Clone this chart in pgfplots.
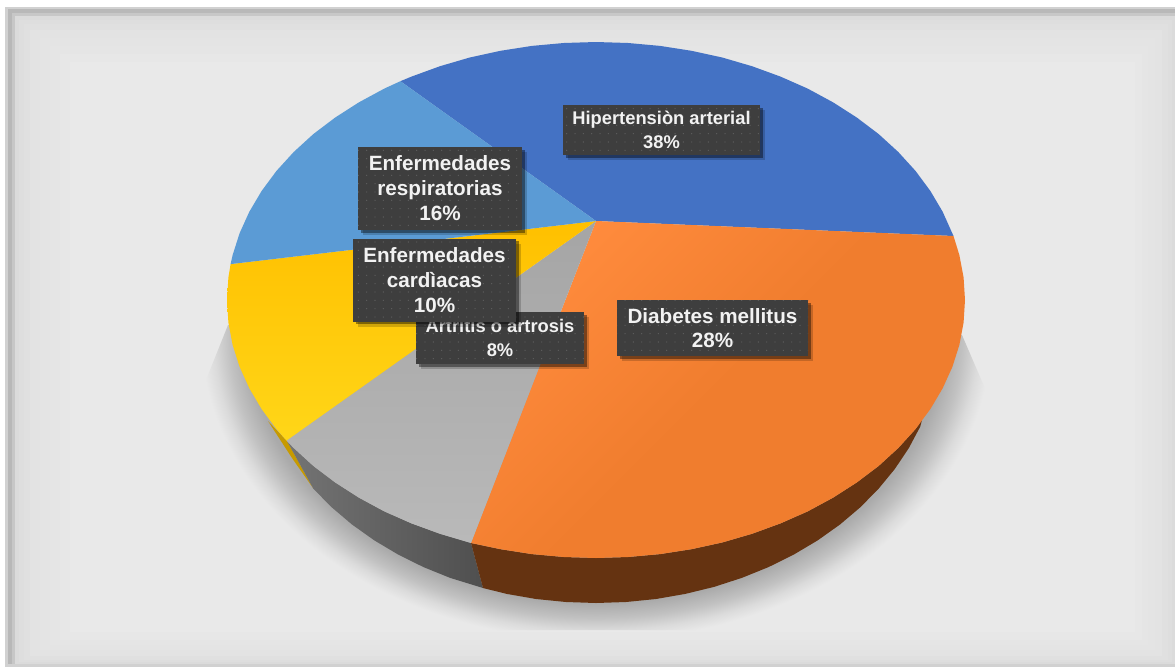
\documentclass[border=0pt]{standalone}
\usepackage{fontspec}
\setmainfont{Liberation Sans}
\usepackage{pgfplots}
\pgfplotsset{compat=1.18}
\usetikzlibrary{shadows,patterns.meta}
\definecolor{cblue}{HTML}{4472C4}
\definecolor{clblue}{HTML}{5B9BD5}
\definecolor{corange}{HTML}{F07D2E}
\definecolor{corangeb}{HTML}{FF8B3D}
\definecolor{cyellow}{HTML}{FFC000}
\definecolor{cyellowb}{HTML}{FFD618}
\definecolor{cgray}{HTML}{A5A5A5}
\definecolor{cgrayb}{HTML}{B9B9B9}
\definecolor{sideorange}{HTML}{653311}
\definecolor{sideyellow}{HTML}{C79A00}
\definecolor{sidegrayl}{HTML}{747474}
\definecolor{sidegrayr}{HTML}{4F4F4F}
\definecolor{boxc}{HTML}{3E3E3E}
\definecolor{bgc}{HTML}{E9E9E9}
\pgfdeclareradialshading{pieshadow}{\pgfpoint{0bp}{0bp}}{color(0bp)=(black!30!bgc); color(22bp)=(black!27!bgc); color(23.2bp)=(black!17!bgc); color(24.2bp)=(black!6!bgc); color(25bp)=(bgc); color(50bp)=(bgc)}
\tikzset{lab/.style={draw=none,fill=boxc,text=white!95!black,font=\bfseries,align=center,inner sep=0pt,anchor=center,
  drop shadow={shadow xshift=3pt,shadow yshift=-3pt,opacity=.18,fill=black},
  drop shadow={shadow xshift=1.5pt,shadow yshift=-1.5pt,opacity=.4,fill=black},
  postaction={pattern={Dots[distance=5pt,radius=.4pt]},pattern color=white!17!boxc}}}
\begin{document}
\begin{tikzpicture}
\begin{axis}[hide axis,scale only axis,x=0.6pt,y=0.6pt,xmin=0,xmax=1175,ymin=0,ymax=667,y dir=reverse,clip=true,no markers]
% background panel
\fill[white] (axis cs:0,0) rectangle (axis cs:1175,667);
\fill[black!18] (axis cs:5,7) rectangle (axis cs:1175,667);
\fill[black!28] (axis cs:8,9) rectangle (axis cs:1175,664);
\fill[black!22] (axis cs:12,13) rectangle (axis cs:1175,664);
\fill[black!14] (axis cs:15,16) rectangle (axis cs:1175,664);
\fill[black!13] (axis cs:19,20) rectangle (axis cs:1172,662);
\fill[black!12] (axis cs:24,24) rectangle (axis cs:1168,660);
\fill[black!11] (axis cs:30,30) rectangle (axis cs:1162,656);
\fill[black!10.5] (axis cs:40,38) rectangle (axis cs:1155,650);
\fill[black!10] (axis cs:50,46) rectangle (axis cs:1148,645);
\fill[black!9.3] (axis cs:60,54) rectangle (axis cs:1142,640);
\fill[bgc] (axis cs:70,62) rectangle (axis cs:1135,632);
% cast shadow
\begin{scope}
\clip (axis cs:228,325) -- (axis cs:200,395) -- (axis cs:200,630) -- (axis cs:992,630) -- (axis cs:990,400) -- (axis cs:962,335) -- cycle;
\shade[shading=pieshadow] (axis cs:596,335) ellipse [x radius=237pt,y radius=183pt];
\end{scope}
% side of the pie
\addplot[draw=none,fill=sideyellow] coordinates {(268,421)(287,441)(313,488)(292,458)} -- cycle;
\addplot[draw=none,left color=sidegrayl,right color=sidegrayr] coordinates {(287,441)(293.7,448)(313.3,465.9)(335.1,482.4)(358.8,497.6)(384.3,511.4)(411.5,523.4)(440,533.8)(471,543)(483,588)(450.2,577.9)(423.5,567.1)(398.1,554.5)(374.2,540.3)(352,524.5)(331.7,507.3)(313.4,488.8)} -- cycle;
\addplot[draw=none,fill=sideorange] coordinates {(471,543)(500.5,549.2)(531.9,554.1)(563.8,557)(596,558)(628.2,557)(660.1,554.1)(691.5,549.2)(722.2,542.5)(752,533.8)(780.5,523.4)(807.7,511.4)(833.2,497.6)(856.9,482.4)(878.7,465.9)(898.3,448)(915.6,429)(922,420)(920.2,426.7)(908.7,448.3)(894.8,469)(878.6,488.7)(860.3,507.3)(840,524.5)(817.8,540.3)(793.9,554.5)(768.5,567.1)(741.8,577.9)(714,586.9)(685.3,593.9)(656,599)(626.1,602)(596,603)(565.9,602)(536,599)(506.7,593.9)(483,588)} -- cycle;
% top of the pie
\addplot[draw=none,fill=cblue] coordinates {(596,221)(953.5,236)(942.7,211.8)(930.4,191)(915.6,171)(898.3,152)(878.7,134.1)(856.9,117.6)(833.2,102.4)(807.7,88.6)(780.5,76.6)(752,66.2)(722.2,57.5)(691.5,50.8)(660.1,45.9)(628.2,43)(596,42)(563.8,43)(531.9,45.9)(500.5,50.8)(469.8,57.5)(440,66.2)(411.5,76.6)(400.4,81.2)} -- cycle;
\addplot[draw=none,left color=corangeb,right color=corange,middle color=corange,shading angle=45] coordinates {(596,221)(953.5,236)(959.4,255.2)(963.6,277.5)(965,300)(963.6,322.5)(959.4,344.8)(952.4,366.8)(942.7,388.2)(930.4,409)(915.6,429)(898.3,448)(878.7,465.9)(856.9,482.4)(833.2,497.6)(807.7,511.4)(780.5,523.4)(752,533.8)(722.2,542.5)(691.5,549.2)(660.1,554.1)(628.2,557)(596,558)(563.8,557)(531.9,554.1)(500.5,549.2)(471,543)} -- cycle;
\addplot[draw=none,top color=cgray,bottom color=cgrayb] coordinates {(596,221)(471,543)(440,533.8)(411.5,523.4)(384.3,511.4)(358.8,497.6)(335.1,482.4)(313.3,465.9)(293.7,448)(286.5,440.6)} -- cycle;
\addplot[draw=none,top color=cyellow,bottom color=cyellowb] coordinates {(596,221)(286.5,440.6)(276.4,429)(261.6,409)(249.3,388.2)(239.6,366.8)(232.6,344.8)(228.4,322.5)(227,300)(228.4,277.5)(230.6,264.1)} -- cycle;
\addplot[draw=none,fill=clblue] coordinates {(596,221)(230.6,264.1)(232.6,255.2)(239.6,233.2)(249.3,211.8)(261.6,191)(276.4,171)(293.7,152)(313.3,134.1)(335.1,117.6)(358.8,102.4)(384.3,88.6)(400.4,81.2)} -- cycle;
% labels
\node[lab,minimum width=118.2pt,minimum height=30pt,font=\bfseries\fontsize{11}{14}\selectfont] at (axis cs:661.5,130) {Hipertensiòn arterial\\38\%};
\node[lab,minimum width=114.6pt,minimum height=33.6pt,font=\bfseries\fontsize{12.4}{14.4}\selectfont] at (axis cs:712.5,328) {Diabetes mellitus\\28\%};
\node[lab,minimum width=100.8pt,minimum height=31.2pt,font=\bfseries\fontsize{11}{14}\selectfont] at (axis cs:500,338) {Artritis o artrosis\\8\%};
\node[lab,minimum width=98.4pt,minimum height=49.8pt,font=\bfseries\fontsize{12.4}{15}\selectfont] at (axis cs:440,188.5) {Enfermedades\\respiratorias\\16\%};
\node[lab,minimum width=97.8pt,minimum height=49.8pt,font=\bfseries\fontsize{12.4}{15}\selectfont] at (axis cs:434.5,280) {Enfermedades\\cardìacas\\10\%};
\end{axis}
\end{tikzpicture}
\end{document}
